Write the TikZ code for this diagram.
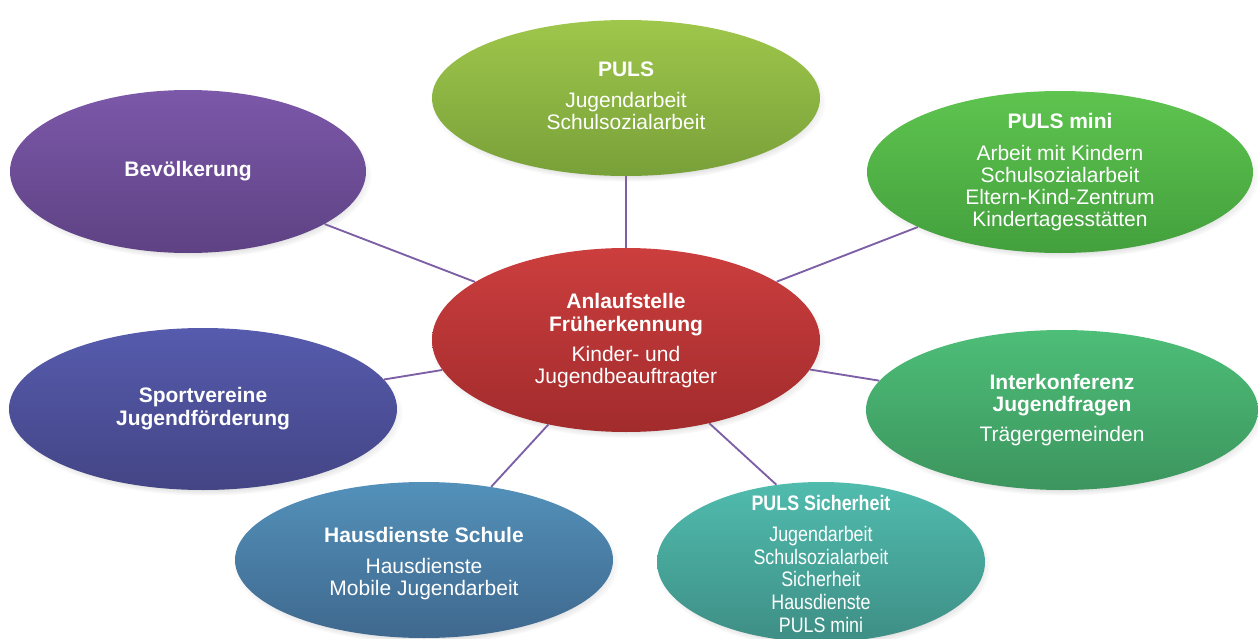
\documentclass[tikz,border=0pt]{standalone}
\usepackage{fontspec}
\setmainfont{Liberation Sans}
\newfontfamily\condfont[FakeStretch=0.85]{Liberation Sans}
\usetikzlibrary{shapes.geometric,shadows,backgrounds}
\definecolor{linkcol}{HTML}{7D5FA6}
\definecolor{hubT}{HTML}{CC3E3E}\definecolor{hubB}{HTML}{A22B2C}
\definecolor{bevT}{HTML}{7C58A9}\definecolor{bevB}{HTML}{5E4284}
\definecolor{pulsT}{HTML}{9FC74B}\definecolor{pulsB}{HTML}{78A039}
\definecolor{miniT}{HTML}{5EC44F}\definecolor{miniB}{HTML}{43A03D}
\definecolor{sportT}{HTML}{565BAD}\definecolor{sportB}{HTML}{434585}
\definecolor{interT}{HTML}{4DBE78}\definecolor{interB}{HTML}{3C955E}
\definecolor{hausT}{HTML}{5391BA}\definecolor{hausB}{HTML}{3F688E}
\definecolor{sichT}{HTML}{50BCAE}\definecolor{sichB}{HTML}{3E8E85}
\begin{document}
\begin{tikzpicture}[x=0.75pt,y=-0.75pt,
  bubble/.style 2 args={ellipse, draw=none, inner sep=0pt,
     minimum width=#1*0.75pt, minimum height=#2*0.75pt,
     circular drop shadow={shadow xshift=1.5pt, shadow yshift=-3pt, shadow scale=1.02, opacity=0.45}},
  shadefill/.style 2 args={top color=#1, bottom color=#2},
  label/.style={text=white, align=center, inner sep=0pt,
     font=\fontsize{15.75}{16.5}\selectfont},
  condlabel/.style={text=white, align=center, inner sep=0pt,
     font=\condfont\fontsize{15.75}{16.9}\selectfont},
  link/.style={draw=linkcol, line width=1.4pt}]
\useasboundingbox (0,0) rectangle (1258,639);

% ellipses
\node[bubble={388}{184}, shadefill={hubT}{hubB}] (hub) at (626,340) {};
\node[bubble={356}{163}, shadefill={bevT}{bevB}] (bev) at (188,171.5) {};
\node[bubble={388}{156}, shadefill={pulsT}{pulsB}] (puls) at (626,98) {};
\node[bubble={386}{162}, shadefill={miniT}{miniB}] (mini) at (1060,172) {};
\node[bubble={388}{162}, shadefill={sportT}{sportB}] (sport) at (203,409) {};
\node[bubble={392}{160}, shadefill={interT}{interB}] (inter) at (1062,410) {};
\node[bubble={378}{156}, shadefill={hausT}{hausB}] (haus) at (424,560) {};
\node[bubble={328}{160}, shadefill={sichT}{sichB}] (sich) at (821,562) {};

% connectors
\begin{scope}[on background layer]
\foreach \n in {bev,puls,mini,sport,inter,haus}
  \draw[link] (hub) -- (\n);
\draw[link] (hub.-45) -- (sich.120);
\end{scope}

% texts
\node[label] (thub) at (626,340.5) {\textbf{Anlaufstelle}\\[0.5pt]\textbf{Früherkennung}\\[6pt]Kinder- und\\Jugendbeauftragter};
\node[label] (tbev) at (188,171) {\textbf{Bevölkerung}};
\node[label] (tpuls) at (626,95.5) {\textbf{PULS}\\[7pt]Jugendarbeit\\Schulsozialarbeit};
\node[label] (tmini) at (1060,172) {\textbf{PULS mini}\\[7pt]Arbeit mit Kindern\\Schulsozialarbeit\\Eltern-Kind-Zentrum\\Kindertagesstätten};
\node[label] (tsport) at (203,408.5) {\textbf{Sportvereine}\\[0.5pt]\textbf{Jugendförderung}};
\node[label] (tinter) at (1062,410) {\textbf{Interkonferenz}\\[0.5pt]\textbf{Jugendfragen}\\[6pt]Trägergemeinden};
\node[label] (thaus) at (424,563.5) {\textbf{Hausdienste Schule}\\[7pt]Hausdienste\\Mobile Jugendarbeit};
\node[condlabel] (tsich) at (821,563.5) {\textbf{PULS Sicherheit}\\[7pt]Jugendarbeit\\Schulsozialarbeit\\Sicherheit\\Hausdienste\\PULS mini};
\end{tikzpicture}
\end{document}
